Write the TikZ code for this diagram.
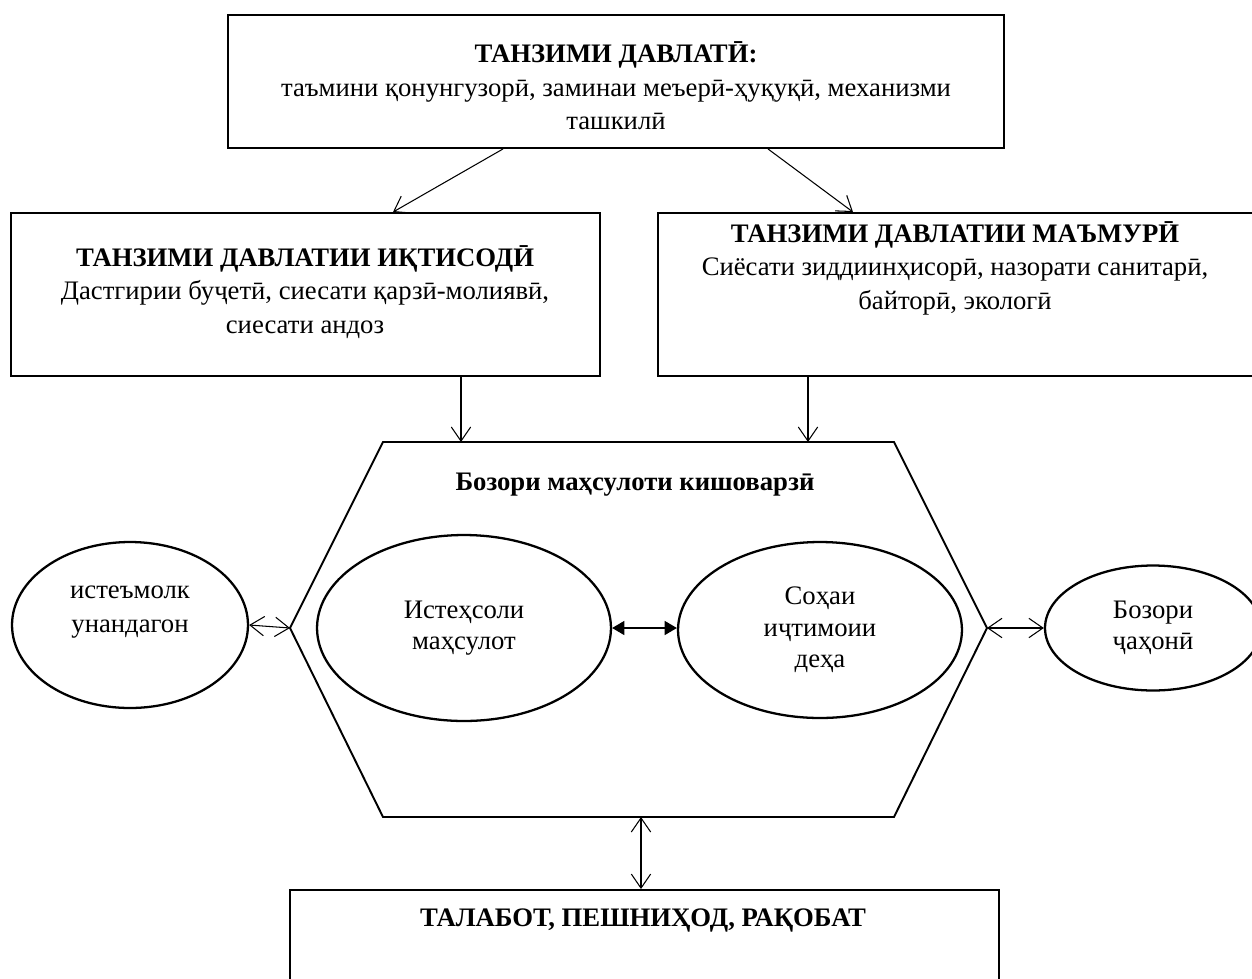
\documentclass[tikz,border=0pt]{standalone}
\usepackage{fontspec}
\setmainfont{Liberation Serif}
\usetikzlibrary{calc,arrows.meta,shapes.geometric}
\tikzset{
  box/.style={draw, line width=1.1pt, rectangle, inner sep=0pt},
  hexa/.style={draw, line width=1.1pt, line join=miter},
  oval/.style={draw, line width=1.3pt, ellipse, inner sep=0pt, align=center, font=\fontsize{15.2}{18}\selectfont},
  txt/.style={align=center, inner sep=0pt, font=\fontsize{15.2}{19}\selectfont},
  head/.style={align=center, inner sep=0pt, font=\fontsize{15.2}{19}\selectfont\bfseries},
  arr/.style={line width=0.6pt, -{Straight Barb[length=8pt,width=11pt]}},
  barb/.style={line width=0.6pt, {Straight Barb[length=8pt,width=11pt]}-{Straight Barb[length=8pt,width=11pt]}},
  solidarr/.style={line width=0.9pt, {Triangle[length=7pt,width=8pt]}-{Triangle[length=7pt,width=8pt]}}
}
\begin{document}
\begin{tikzpicture}[x=0.02cm, y=-0.02cm]
%%%%% START %%%%%
\useasboundingbox (0,0) rectangle (1252,978);
\clip (0,0) rectangle (1252,978);

\node[box, minimum width=15.52cm, minimum height=2.66cm] (gov) at (616,81.5) {};
\node[txt] (govtxt) at (616,86) {{\bfseries ТАНЗИМИ ДАВЛАТӢ:}\\таъмини қонунгузорӣ, заминаи меъерӣ-ҳуқуқӣ, механизми\\ташкилӣ};

\node[box, minimum width=11.78cm, minimum height=3.26cm] (econ) at (305.5,294.5) {};
\node[txt] (econtxt) at (305,292) {{\bfseries ТАНЗИМИ ДАВЛАТИИ ИҚТИСОДӢ}\\Дастгирии буҷетӣ, сиесати қарзӣ-молиявӣ,\\сиесати андоз};

\node[box, minimum width=12.08cm, minimum height=3.26cm] (adm) at (960,294.5) {};
\node[txt] (admtxt) at (955,268) {{\bfseries ТАНЗИМИ ДАВЛАТИИ МАЪМУРӢ}\\Сиёсати зиддиинҳисорӣ, назорати санитарӣ,\\байторӣ, экологӣ};

% market
\coordinate (htl) at (383,442);
\coordinate (htr) at (894,442);
\coordinate (hr) at (987,628);
\coordinate (hbr) at (894,817);
\coordinate (hbl) at (383,817);
\coordinate (hl) at (290,628);
\draw[hexa] (htl) -- (htr) -- (hr) -- (hbr) -- (hbl) -- (hl) -- cycle;
\node[head] (market) at (635,485) {Бозори маҳсулоти кишоварзӣ};

\node[oval, minimum width=5.88cm, minimum height=3.72cm] (prod) at (464,628) {Истеҳсоли\\маҳсулот};
\node[oval, minimum width=5.68cm, minimum height=3.52cm] (soc) at (820,630) {Соҳаи\\иҷтимоии\\деҳа};
\node[oval, minimum width=4.72cm, minimum height=3.32cm] (cons) at (130,625) {};
\node[txt] (constxt) at (130,612) {истеъмолк\\унандагон};
\node[oval, minimum width=4.32cm, minimum height=2.5cm] (world) at (1153,628) {Бозори\\ҷаҳонӣ};

\node[box, minimum width=14.18cm, minimum height=2.2cm] (dem) at (644.5,945) {};
\node[head] (demtxt) at (643,920) {ТАЛАБОТ, ПЕШНИҲОД, РАҚОБАТ};

% arrows
\draw[arr] ($(gov.south)+(-113,0)$) -- ($(econ.north)+(87.5,0)$);
\draw[arr] ($(gov.south)+(152,0)$) -- ($(adm.north)+(-107,0)$);
\draw[arr] ($(econ.south)+(155.5,0)$) coordinate (e1) -- (e1 |- htl);
\draw[arr] ($(adm.south)+(-152,0)$) coordinate (a1) -- (a1 |- htl);
\draw[barb] (cons.east) -- (hl);
\draw[barb] (hr) -- (world.west);
\draw[solidarr] (prod.east) -- (prod.east -| soc.west);
\coordinate (d1) at ($(dem.north)+(-3.5,0)$);
\draw[barb] (d1 |- hbl) -- (d1);
%%%%% END %%%%%
\end{tikzpicture}
\end{document}
